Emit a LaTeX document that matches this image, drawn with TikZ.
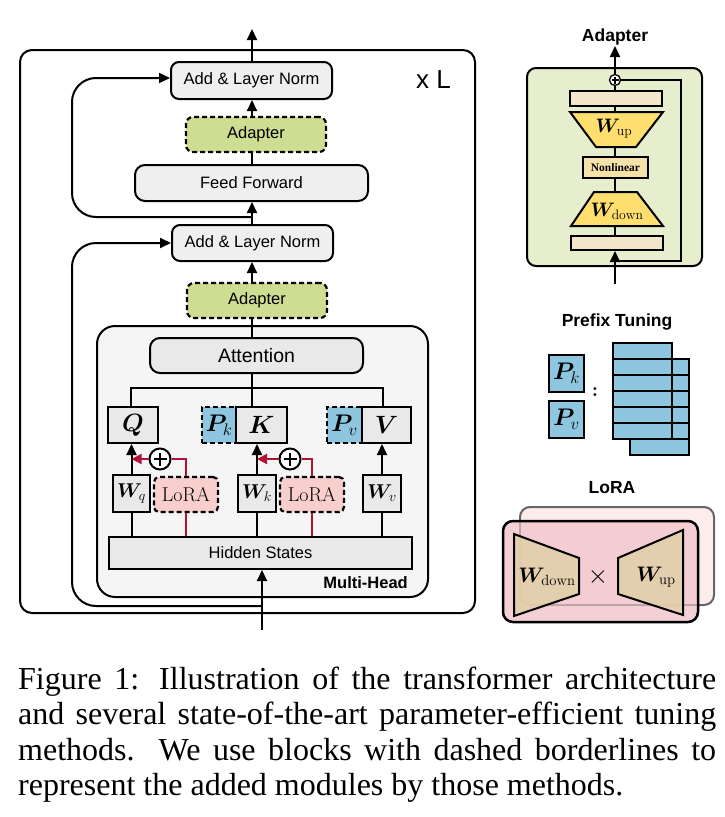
\RequirePackage{fix-cm}
\documentclass[tikz,border=0pt]{standalone}
\usepackage{fontspec}
\usepackage{bm}
\usetikzlibrary{arrows.meta}
\newfontfamily\hv{Liberation Sans}
\newfontfamily\tms{Liberation Serif}
\definecolor{boxgray}{RGB}{239,239,239}
\definecolor{attgray}{RGB}{233,233,233}
\definecolor{mhgray}{RGB}{245,245,245}
\definecolor{adgreen}{RGB}{206,221,146}
\definecolor{pblue}{RGB}{142,197,223}
\definecolor{lpink}{RGB}{249,207,205}
\definecolor{lred}{RGB}{178,18,52}
\definecolor{apanel}{RGB}{230,238,206}
\definecolor{barc}{RGB}{242,230,202}
\definecolor{trapc}{RGB}{253,222,110}
\definecolor{nonlin}{RGB}{245,226,170}
\definecolor{lorafront}{RGB}{242,200,206}
\definecolor{loraback}{RGB}{253,236,236}
\definecolor{tanc}{RGB}{226,207,170}
\tikzset{
  arr/.style={-{Triangle[length=11pt,width=10pt]}},
  rarr/.style={-{Triangle[length=10pt,width=10pt]}},
  lw/.style={line width=2pt},
  sansf/.style={font=\hv\fontsize{16.5}{18}\selectfont},
  gbox/.style={draw, line width=2pt, rounded corners=8pt, fill=boxgray, inner sep=0pt, sansf},
  sbox/.style={draw, line width=2pt, fill=attgray, inner sep=0pt},
  dbox/.style={draw, line width=2.2pt, dash pattern=on 5pt off 3pt, inner sep=0pt},
  mbig/.style={font=\fontsize{25}{27}\selectfont},
  mw/.style={font=\fontsize{20}{22}\selectfont},
  ttl/.style={font=\hv\bfseries\fontsize{17.5}{19}\selectfont},
  capt/.style={anchor=base west, inner sep=0pt, font=\tms\fontsize{32}{35.5}\selectfont},
  plusc/.style={circle, draw, line width=2pt, fill=white, minimum size=21pt, inner sep=0pt},
  pbox/.style={draw, line width=2pt, fill=pblue, inner sep=0pt},
}
\begin{document}
\begin{tikzpicture}[x=1pt,y=-1pt]
\useasboundingbox (0,0) rectangle (725,817);
% ---------------- main transformer ----------------
\draw[lw, rounded corners=12pt] (20,50) rectangle (475,613);
\node[draw, line width=2pt, rounded corners=18pt, fill=mhgray, minimum width=331pt, minimum height=271pt] (mh) at (262.5,461.5) {};
\coordinate (sp) at (252,0);
\node[gbox, minimum width=161pt, minimum height=37pt] (an1) at (251.5,80.5) {Add \& Layer Norm};
\node[dbox, rounded corners=7pt, fill=adgreen, sansf, minimum width=140pt, minimum height=35pt] (ad1) at (256,134.5) {Adapter};
\node[gbox, rounded corners=10pt, minimum width=233pt, minimum height=36pt] (ff) at (251.5,183) {Feed Forward};
\node[gbox, minimum width=161pt, minimum height=36pt] (an2) at (252.5,243) {Add \& Layer Norm};
\node[dbox, rounded corners=7pt, fill=adgreen, sansf, minimum width=140pt, minimum height=35pt] (ad2) at (257,300.5) {Adapter};
\node[gbox, rounded corners=10pt, fill=attgray, font=\hv\fontsize{19.5}{21}\selectfont, minimum width=213pt, minimum height=35pt] (att) at (256.5,355.5) {Attention};
\node[sbox, mbig, minimum width=50pt, minimum height=36pt] (Q) at (133,425) {$\bm{Q}$};
\node[dbox, fill=pblue, font=\fontsize{24}{26}\selectfont, minimum width=34pt, minimum height=36pt] (Pk) at (219,425) {$\bm{P}_{k}$};
\node[sbox, mbig, minimum width=51pt, minimum height=36pt] (K) at (261.5,425) {$\bm{K}$};
\node[dbox, fill=pblue, font=\fontsize{24}{26}\selectfont, minimum width=35pt, minimum height=36pt] (Pv) at (344.5,425) {$\bm{P}_{v}$};
\node[sbox, mbig, minimum width=49pt, minimum height=36pt] (V) at (386.5,425) {$\bm{V}$};
\node[sbox, mw, minimum width=37pt, minimum height=37pt] (Wq) at (131.5,493.5) {$\bm{W}_{q}$};
\node[dbox, rounded corners=5pt, fill=lpink, font=\fontsize{20}{22}\selectfont, minimum width=64pt, minimum height=35pt] (L1) at (186,494.5) {$\mathrm{LoRA}$};
\node[sbox, mw, minimum width=38pt, minimum height=37pt] (Wk) at (257,493.5) {$\bm{W}_{k}$};
\node[dbox, rounded corners=5pt, fill=lpink, font=\fontsize{20}{22}\selectfont, minimum width=64pt, minimum height=35pt] (L2) at (312,494.5) {$\mathrm{LoRA}$};
\node[sbox, mw, minimum width=38pt, minimum height=37pt] (Wv) at (382,493.5) {$\bm{W}_{v}$};
\node[sbox, sansf, minimum width=303pt, minimum height=32pt] (hs) at (260.5,553) {Hidden States};
\node[anchor=base east, inner sep=0pt, font=\hv\bfseries\fontsize{16.5}{18}\selectfont] (mhl) at (408,588) {Multi-Head};
\node[anchor=base, inner sep=0pt, font=\hv\fontsize{26}{28}\selectfont] (xl) at (433.5,88) {x L};
\node[plusc] (p1) at (160,459) {};
\node[plusc] (p2) at (290,459) {};
\foreach \p in {p1,p2}{
  \draw[line width=2.2pt] ([xshift=-6.5pt]\p.center) -- ([xshift=6.5pt]\p.center);
  \draw[line width=2.2pt] ([yshift=-6.5pt]\p.center) -- ([yshift=6.5pt]\p.center);
}
% main connectors
\coordinate (topout) at (252,29);
\coordinate (r1) at (252,217);
\coordinate (r2) at (262,606);
\coordinate (inp) at (262,630);
\coordinate (sq) at (131,388);
\coordinate (sv) at (383,388);
\draw[lw, arr] (an1.north -| sp) -- (topout);
\draw[lw, arr] (ad1.north -| sp) -- (an1.south -| sp);
\draw[lw] (ff.north -| sp) -- (ad1.south -| sp);
\draw[lw, arr] (an2.north -| sp) -- (ff.south -| sp);
\draw[lw, arr, rounded corners=24pt] (r1) -- (72,217) |- ([yshift=2.5pt]an1.west);
\draw[lw, arr] (ad2.north -| sp) -- (an2.south -| sp);
\draw[lw, arr, rounded corners=24pt] (r2) -- (72,606) |- (an2.west);
\draw[lw] (att.north -| sp) -- (ad2.south -| sp);
\draw[lw] (att.south -| sp) -- (sp |- sq);
\draw[lw] (sq |- Q.north) -- (sq) -- (sv) -- (sv |- V.north);
\draw[lw] (sp |- sq) -- (sp |- K.north);
\draw[lw, arr] (Wq.north) -- (Wq.north |- Q.south);
\draw[lw, arr] (Wk.north) -- (Wk.north |- K.south);
\draw[lw, arr] (Wv.north) -- (Wv.north |- V.south);
\draw[lw] (Wq.south) -- (Wq.south |- hs.north);
\draw[lw] (Wk.south) -- (Wk.south |- hs.north);
\draw[lw] (Wv.south) -- (Wv.south |- hs.north);
\draw[lw, lred] (L1.south) -- (L1.south |- hs.north);
\draw[lw, lred] (L2.south) -- (L2.south |- hs.north);
\draw[lw, lred] (L1.north) |- (p1.east);
\draw[lw, lred] (L2.north) |- (p2.east);
\draw[lw, lred, rarr] (p1.west) -- (p1.west -| Wq.north);
\draw[lw, lred, rarr] (p2.west) -- (p2.west -| Wk.north);
\draw[lw, arr] (inp) -- (hs.south -| inp);
% ---------------- Adapter panel ----------------
\node[ttl] (adt) at (615,37) {Adapter};
\node[draw, line width=2pt, rounded corners=9pt, fill=apanel, minimum width=175pt, minimum height=198pt] (apb) at (614.5,167) {};
\node[draw, line width=2pt, fill=barc, minimum width=92pt, minimum height=15pt, inner sep=0pt] (tbar) at (616,98.5) {};
\node[draw, line width=2pt, fill=barc, minimum width=92pt, minimum height=14pt, inner sep=0pt] (bbar) at (617,243) {};
\draw[lw, fill=trapc] (570,112) -- (663,112) -- (636,147) -- (596,147) -- cycle;
\draw[lw, fill=trapc] (594,192) -- (637,192) -- (663,226) -- (571,226) -- cycle;
\node[font=\fontsize{19.5}{21}\selectfont, inner sep=0pt] (wupa) at (614,129) {$\bm{W}_{\mathrm{up}}$};
\node[font=\fontsize{19.5}{21}\selectfont, inner sep=0pt] (wdna) at (617,211) {$\bm{W}_{\mathrm{down}}$};
\node[draw, line width=2pt, fill=nonlin, minimum width=65pt, minimum height=21pt, inner sep=0pt, font=\tms\bfseries\fontsize{11.5}{13}\selectfont] (nl) at (615.5,167.5) {Nonlinear};
\node[circle, draw, line width=1.3pt, fill=white, minimum size=11pt, inner sep=0pt] (pl) at (615,80) {};
\draw[line width=1.1pt] ([xshift=-3.5pt]pl.center) -- ([xshift=3.5pt]pl.center);
\draw[line width=1.1pt] ([yshift=-3.5pt]pl.center) -- ([yshift=3.5pt]pl.center);
\coordinate (adout) at (615,46);
\coordinate (adin) at (615,284);
\coordinate (adj) at (615,261);
\coordinate (wupTop) at (615,112);
\coordinate (wupBot) at (615,147);
\coordinate (wdnTop) at (615,192);
\coordinate (wdnBot) at (615,226);
\draw[lw, arr] (pl.north) -- (adout);
\draw[lw] (pl.south) -- (tbar.north -| pl);
\draw[lw] (tbar.south -| pl) -- (wupTop);
\draw[lw] (wupBot) -- (nl.north -| pl);
\draw[lw] (nl.south -| pl) -- (wdnTop);
\draw[lw] (wdnBot) -- (bbar.north -| pl);
\draw[line width=1.6pt] (pl.east) -| (681,261) -- (adj);
\draw[lw, arr] (adin) -- (bbar.south -| adin);
% ---------------- Prefix tuning ----------------
\node[ttl] (pft) at (617,322) {Prefix Tuning};
\node[pbox, font=\fontsize{24}{26}\selectfont, minimum width=35pt, minimum height=37pt] (pk2) at (566.5,373.5) {$\bm{P}_{k}$};
\node[pbox, font=\fontsize{24}{26}\selectfont, minimum width=35pt, minimum height=37pt] (pv2) at (566.5,419.5) {$\bm{P}_{v}$};
\node[font=\bfseries\fontsize{20}{22}\selectfont, inner sep=0pt] (colon) at (595,392) {:};
\foreach \i in {0,...,5}{
  \node[pbox, minimum width=59pt, minimum height=16pt] (b\i) at (659.5,{367+16*\i}) {};
}
\foreach \i in {0,...,5}{
  \node[pbox, minimum width=59pt, minimum height=16pt] (f\i) at (642.5,{351+16*\i}) {};
}
% ---------------- LoRA ----------------
\node[ttl] (lrt) at (612,488) {LoRA};
\draw[line width=2pt, draw=black!60, fill=loraback, rounded corners=10pt] (520,507) rectangle (714,605);
\fill[lorafront, fill opacity=0.85, rounded corners=10pt] (503,521) rectangle (698,622);
\draw[line width=1.6pt, draw=black!60, draw opacity=0.25, rounded corners=10pt] (520,507) rectangle (714,605);
\draw[line width=2.5pt, rounded corners=10pt] (503,521) rectangle (698,622);
\draw[lw, fill=tanc, fill opacity=0.9] (514,534) -- (579,558) -- (579,594) -- (514,616) -- cycle;
\draw[lw, fill=tanc, fill opacity=0.9] (618,558) -- (683,530) -- (683,615) -- (618,594) -- cycle;
\node[font=\fontsize{21}{23}\selectfont, inner sep=0pt] (wdl) at (547,577) {$\bm{W}_{\mathrm{down}}$};
\node[font=\fontsize{21}{23}\selectfont, inner sep=0pt] (wul) at (656,577) {$\bm{W}_{\mathrm{up}}$};
\node[font=\fontsize{26}{28}\selectfont, inner sep=0pt] (tms) at (598,577) {$\times$};
% ---------------- caption ----------------
\node[capt] (c1) at (18,689) {\hbox to 698pt{Figure 1: Illustration of the transformer architecture}};
\node[capt] (c2) at (18,724.5) {\hbox to 698pt{and several state-of-the-art parameter-efficient tuning}};
\node[capt] (c3) at (18,760) {\hbox to 698pt{methods.  We use blocks with dashed borderlines to}};
\node[capt] (c4) at (18,795.5) {represent the added modules by those methods.};
\end{tikzpicture}
\end{document}
